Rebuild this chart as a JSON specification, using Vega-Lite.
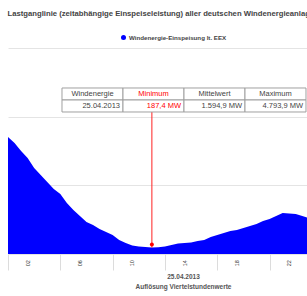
{
  "$schema": "https://vega.github.io/schema/vega-lite/v6.json",
  "width": 299,
  "height": 206,
  "autosize": "none",
  "padding": {"left": 8, "top": 48, "right": 0, "bottom": 42},
  "config": {"font": "Liberation Sans", "view": {"stroke": null}},
  "title": {
    "text": "Lastganglinie (zeitabhängige Einspeiseleistung) aller deutschen Windenergieanlagen",
    "fontSize": 7.7,
    "fontWeight": "bold",
    "color": "#444",
    "anchor": "start",
    "offset": 16
  },
  "datasets": {
    "wind": [
      {"h": 0.5, "mw": 3408}, {"h": 1.0, "mw": 3233}, {"h": 1.5, "mw": 3000}, {"h": 2.0, "mw": 2796},
      {"h": 2.5, "mw": 2505}, {"h": 3.0, "mw": 2301}, {"h": 3.5, "mw": 2097}, {"h": 4.0, "mw": 1893},
      {"h": 4.5, "mw": 1748}, {"h": 5.0, "mw": 1486}, {"h": 5.5, "mw": 1282}, {"h": 6.0, "mw": 1107},
      {"h": 6.5, "mw": 932}, {"h": 7.0, "mw": 845}, {"h": 7.5, "mw": 728}, {"h": 8.0, "mw": 641},
      {"h": 8.5, "mw": 553}, {"h": 9.0, "mw": 408}, {"h": 9.5, "mw": 320}, {"h": 10.0, "mw": 248},
      {"h": 10.5, "mw": 218}, {"h": 11.0, "mw": 204}, {"h": 11.5, "mw": 187.4}, {"h": 12.0, "mw": 195},
      {"h": 12.5, "mw": 218}, {"h": 13.0, "mw": 262}, {"h": 13.5, "mw": 306}, {"h": 14.0, "mw": 320},
      {"h": 14.5, "mw": 335}, {"h": 15.0, "mw": 379}, {"h": 15.5, "mw": 408}, {"h": 16.0, "mw": 495},
      {"h": 16.5, "mw": 553}, {"h": 17.0, "mw": 612}, {"h": 17.5, "mw": 670}, {"h": 18.0, "mw": 699},
      {"h": 18.5, "mw": 757}, {"h": 19.0, "mw": 816}, {"h": 19.5, "mw": 874}, {"h": 20.0, "mw": 961},
      {"h": 20.5, "mw": 1020}, {"h": 21.0, "mw": 1107}, {"h": 21.5, "mw": 1194}, {"h": 22.0, "mw": 1180},
      {"h": 22.5, "mw": 1165}, {"h": 23.0, "mw": 1107}, {"h": 23.5, "mw": 1049}, {"h": 24.0, "mw": 1020}
    ],
    "minimum": [{"h": 11.5, "mw": 187.4, "from": 4137}],
    "hours": [
      {"h": 2, "label": "02"}, {"h": 6, "label": "06"}, {"h": 10, "label": "10"},
      {"h": 14, "label": "14"}, {"h": 18, "label": "18"}, {"h": 22, "label": "22"}
    ],
    "table": [
      {"col": "Windenergie", "row": "head", "text": "Windenergie"},
      {"col": "Minimum", "row": "head", "text": "Minimum"},
      {"col": "Mittelwert", "row": "head", "text": "Mittelwert"},
      {"col": "Maximum", "row": "head", "text": "Maximum"},
      {"col": "Windenergie", "row": "val", "text": "25.04.2013"},
      {"col": "Minimum", "row": "val", "text": "187,4 MW"},
      {"col": "Mittelwert", "row": "val", "text": "1.594,9 MW"},
      {"col": "Maximum", "row": "val", "text": "4.793,9 MW"}
    ]
  },
  "layer": [
    {
      "layer": [
        {
          "data": {"name": "wind"},
          "mark": {"type": "area", "clip": true, "opacity": 1},
          "encoding": {
            "x": {
              "field": "h",
              "type": "quantitative",
              "scale": {"domain": [0.5, 23.36], "nice": false, "zero": false},
              "axis": {
                "values": [0.5,0.75,1,1.25,1.5,1.75,2,2.25,2.5,2.75,3,3.25,3.5,3.75,4,4.25,4.5,4.75,5,5.25,5.5,5.75,6,6.25,6.5,6.75,7,7.25,7.5,7.75,8,8.25,8.5,8.75,9,9.25,9.5,9.75,10,10.25,10.5,10.75,11,11.25,11.5,11.75,12,12.25,12.5,12.75,13,13.25,13.5,13.75,14,14.25,14.5,14.75,15,15.25,15.5,15.75,16,16.25,16.5,16.75,17,17.25,17.5,17.75,18,18.25,18.5,18.75,19,19.25,19.5,19.75,20,20.25,20.5,20.75,21,21.25,21.5,21.75,22,22.25,22.5,22.75,23,23.25],
                "labels": false,
                "tickSize": 16,
                "tickColor": "#dcdcdc",
                "tickWidth": 1,
                "domain": false,
                "grid": false,
                "title": ["25.04.2013", "Auflösung Viertelstundenwerte"],
                "titleFontSize": 6.5,
                "titleFontWeight": "bold",
                "titleColor": "#555",
                "titleLineHeight": 10,
                "titleBaseline": "top",
                "titleAlign": "center",
                "titleX": 175,
                "titleY": 19
              }
            },
            "y": {
              "field": "mw",
              "type": "quantitative",
              "scale": {"domain": [0, 6000], "nice": false},
              "axis": {
                "values": [0, 1000, 2000, 3000, 4000, 5000, 6000],
                "labels": false,
                "ticks": false,
                "domain": false,
                "grid": true,
                "gridColor": "#e4e4e4",
                "title": null
              }
            },
            "color": {
              "datum": "Windenergie-Einspeisung lt. EEX",
              "type": "nominal",
              "scale": {"range": ["#0000ff"]},
              "legend": {
                "orient": "none",
                "legendX": 112,
                "legendY": -14,
                "direction": "horizontal",
                "title": null,
                "symbolType": "circle",
                "symbolSize": 25,
                "labelFontSize": 6.2,
                "labelFontWeight": "bold",
                "labelColor": "#444",
                "labelOffset": 2
              }
            }
          }
        },
        {
          "data": {"name": "hours"},
          "mark": {"type": "text", "angle": 270, "fontSize": 5.5, "color": "#333", "align": "center", "baseline": "middle"},
          "encoding": {
            "x": {"field": "h", "type": "quantitative"},
            "y": {"datum": -270, "type": "quantitative"},
            "text": {"field": "label"}
          }
        },
        {
          "data": {"name": "minimum"},
          "mark": {"type": "rule", "color": "#ff2020", "strokeWidth": 1},
          "encoding": {
            "x": {"field": "h", "type": "quantitative"},
            "y": {"field": "from", "type": "quantitative"},
            "y2": {"field": "mw"}
          }
        },
        {
          "data": {"name": "minimum"},
          "mark": {"type": "point", "shape": "circle", "filled": true, "color": "#ff0000", "size": 16, "opacity": 1, "yOffset": -3},
          "encoding": {
            "x": {"field": "h", "type": "quantitative"},
            "y": {"field": "mw", "type": "quantitative"}
          }
        }
      ]
    },
    {
      "data": {"name": "table"},
      "layer": [
        {
          "mark": {"type": "rect", "fill": "#ffffff", "stroke": "#a0a0a0", "strokeWidth": 1},
          "encoding": {
            "x": {
              "field": "col", "type": "nominal",
              "scale": {"domain": ["Windenergie", "Minimum", "Mittelwert", "Maximum"], "paddingInner": 0, "paddingOuter": 0.4508, "align": 0.9818, "round": false},
              "axis": null
            },
            "y": {
              "field": "row", "type": "nominal",
              "scale": {"domain": ["r0", "r1", "r2", "head", "val", "r5", "r6", "r7", "r8", "r9", "r10", "r11", "r12", "r13", "r14", "r15"], "paddingInner": 0, "paddingOuter": 0.5833, "align": 0.2857, "round": false},
              "axis": null
            }
          }
        },
        {
          "transform": [{"filter": "datum.row === 'head' && datum.col !== 'Minimum'"}],
          "mark": {"type": "text", "fontSize": 7.5, "align": "center", "baseline": "middle", "color": "#444"},
          "encoding": {
            "x": {"field": "col", "type": "nominal", "axis": null},
            "y": {"field": "row", "type": "nominal", "axis": null},
            "text": {"field": "text"}
          }
        },
        {
          "transform": [{"filter": "datum.row === 'head' && datum.col === 'Minimum'"}],
          "mark": {"type": "text", "fontSize": 7.5, "align": "center", "baseline": "middle", "color": "#ff0000"},
          "encoding": {
            "x": {"field": "col", "type": "nominal", "axis": null},
            "y": {"field": "row", "type": "nominal", "axis": null},
            "text": {"field": "text"}
          }
        },
        {
          "transform": [{"filter": "datum.row === 'val' && datum.col !== 'Minimum'"}],
          "mark": {"type": "text", "fontSize": 7.5, "align": "right", "baseline": "middle", "dx": -3, "color": "#444"},
          "encoding": {
            "x": {"field": "col", "type": "nominal", "bandPosition": 1, "axis": null},
            "y": {"field": "row", "type": "nominal", "axis": null},
            "text": {"field": "text"}
          }
        },
        {
          "transform": [{"filter": "datum.row === 'val' && datum.col === 'Minimum'"}],
          "mark": {"type": "text", "fontSize": 7.5, "align": "right", "baseline": "middle", "dx": -3, "color": "#ff0000"},
          "encoding": {
            "x": {"field": "col", "type": "nominal", "bandPosition": 1, "axis": null},
            "y": {"field": "row", "type": "nominal", "axis": null},
            "text": {"field": "text"}
          }
        }
      ]
    }
  ],
  "resolve": {"scale": {"x": "independent", "y": "independent"}}
}
